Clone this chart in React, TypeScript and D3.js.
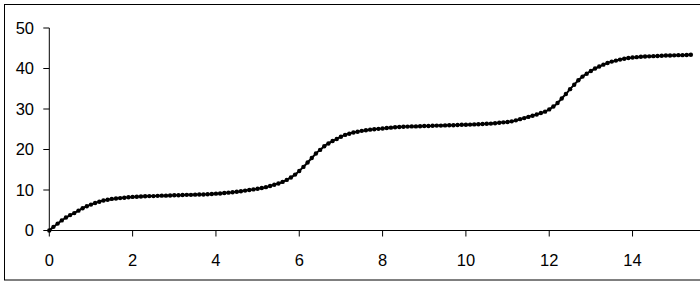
import React from "react";
import * as d3 from "d3";

const xValues: number[] = Array.from({ length: 155 }, (_, i) => +(i * 0.1).toFixed(1));
const yValues: number[] = [
  0, 0.9, 1.7, 2.5, 3.2, 3.8, 4.3, 4.9, 5.5, 6.0,
  6.4, 6.8, 7.1, 7.4, 7.6, 7.8, 7.9, 8.0, 8.1, 8.2,
  8.3, 8.35, 8.4, 8.45, 8.5, 8.5, 8.55, 8.6, 8.6, 8.65,
  8.7, 8.7, 8.75, 8.8, 8.8, 8.85, 8.9, 8.9, 8.95, 9.0,
  9.1, 9.15, 9.25, 9.35, 9.45, 9.55, 9.7, 9.85, 10.0, 10.15,
  10.3, 10.5, 10.7, 11.0, 11.3, 11.6, 12.0, 12.5, 13.1, 13.8,
  14.7, 15.7, 16.8, 17.9, 19.0, 19.9, 20.8, 21.5, 22.1, 22.6,
  23.15, 23.6, 23.9, 24.2, 24.4, 24.6, 24.75, 24.9, 25.0, 25.1,
  25.2, 25.3, 25.4, 25.5, 25.55, 25.6, 25.65, 25.7, 25.7, 25.75,
  25.8, 25.8, 25.85, 25.9, 25.9, 25.95, 26.0, 26.0, 26.05, 26.1,
  26.1, 26.15, 26.2, 26.25, 26.3, 26.35, 26.4, 26.5, 26.6, 26.7,
  26.8, 26.95, 27.2, 27.5, 27.75, 28.05, 28.35, 28.65, 29.0, 29.35,
  29.9, 30.6, 31.5, 32.6, 33.7, 34.9, 36.0, 37.1, 38.0, 38.7,
  39.4, 40.0, 40.5, 40.95, 41.35, 41.7, 41.95, 42.2, 42.4, 42.6,
  42.7, 42.8, 42.9, 42.95, 43.0, 43.05, 43.1, 43.15, 43.2, 43.2,
  43.25, 43.3, 43.3, 43.35, 43.4,
];
const xTicks: number[] = [0, 2, 4, 6, 8, 10, 12, 14];
const yTicks: number[] = [0, 10, 20, 30, 40, 50];

export default function App() {
  const W = 700, H = 286;
  const x = d3.scaleLinear().domain([0, 15.6]).range([49.3, 699.2]);
  const y = d3.scaleLinear().domain([0, 50]).range([230.5, 28]);
  const pts = xValues.map((v, i) => [v, yValues[i]] as [number, number]);
  const line = d3.line<[number, number]>().x(d => x(d[0])).y(d => y(d[1])).curve(d3.curveMonotoneX);
  const font = "'Liberation Sans', Arial, sans-serif";
  return (
    <svg width={W} height={H} style={{ position: "absolute", left: 0, top: 0, display: "block", background: "#fff" }}>
      <rect x={0} y={0} width={W} height={H} fill="#fff" />
      <rect x={4.5} y={4.5} width={W + 10} height={275.5} fill="none" stroke="#000" strokeWidth={1} />
      {/* y axis */}
      <line x1={x(0)} x2={x(0)} y1={y(50)} y2={y(0)} stroke="#000" strokeWidth={1} />
      {yTicks.map(t => (
        <g key={"y" + t}>
          <line x1={x(0) - 6} x2={x(0)} y1={y(t)} y2={y(t)} stroke="#000" strokeWidth={1} />
          <text x={34} y={y(t)} dy="0.36em" textAnchor="end" fontFamily={font} fontSize={16.5} fill="#000">{t}</text>
        </g>
      ))}
      {/* x axis */}
      <line x1={x(0)} x2={W} y1={y(0)} y2={y(0)} stroke="#000" strokeWidth={1} />
      {xTicks.map(t => (
        <g key={"x" + t}>
          <line x1={x(t)} x2={x(t)} y1={y(0)} y2={y(0) + 6} stroke="#000" strokeWidth={1} />
          <text x={x(t)} y={260.5} dy="0.36em" textAnchor="middle" fontFamily={font} fontSize={16.5} fill="#000">{t}</text>
        </g>
      ))}
      <path d={line(pts) || ""} fill="none" stroke="#000" strokeWidth={2} />
      {pts.map((p, i) => (
        <circle key={i} cx={x(p[0])} cy={y(p[1])} r={2.2} fill="#000" />
      ))}
    </svg>
  );
}
